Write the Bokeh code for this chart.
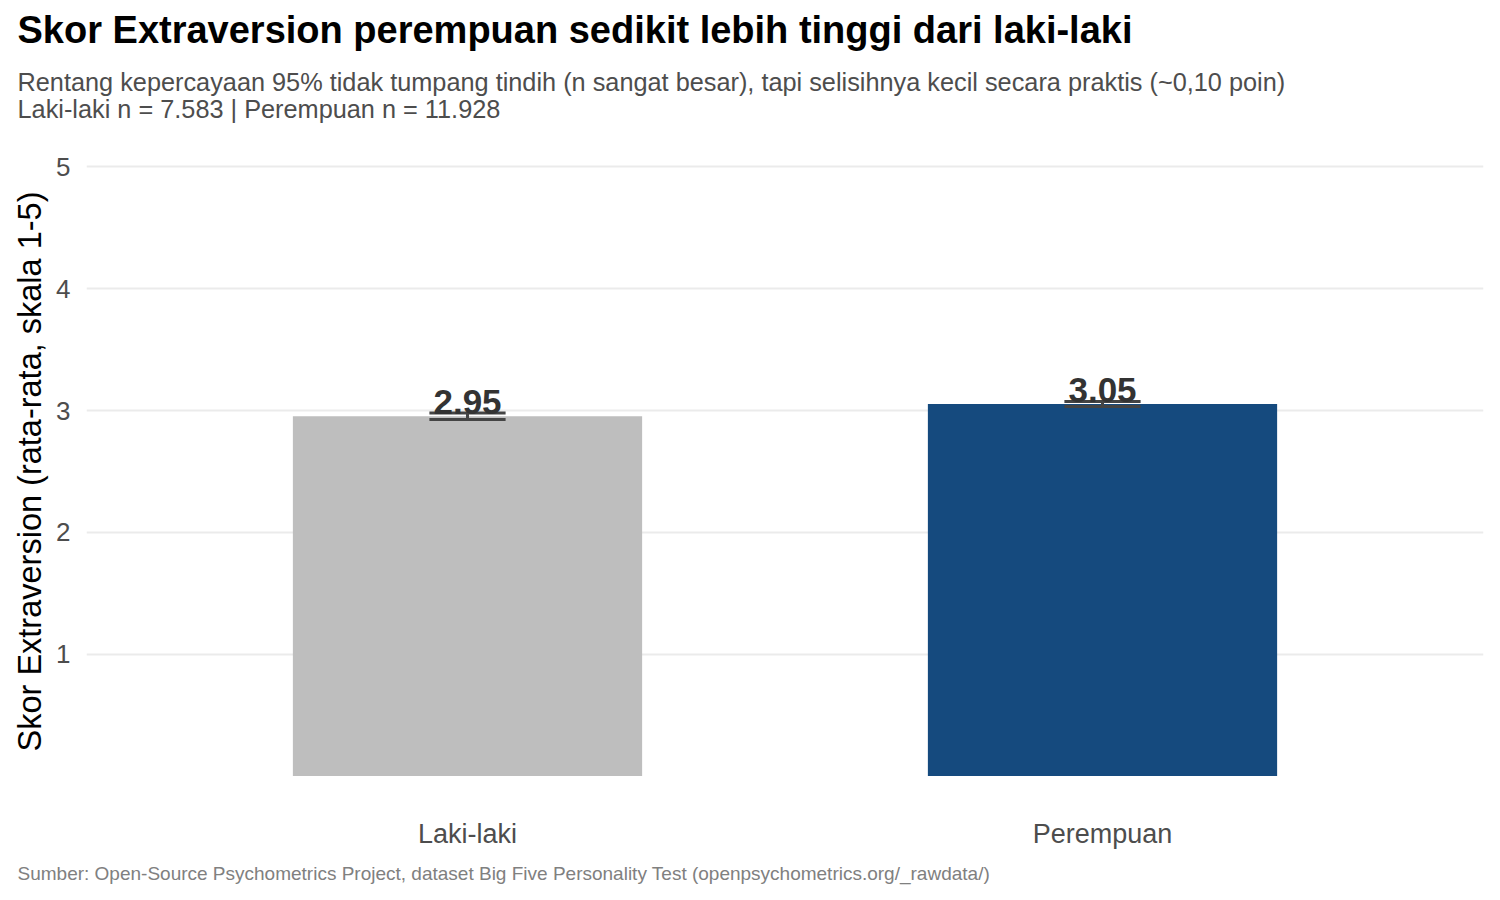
from bokeh.plotting import figure
from bokeh.models import Range1d, FactorRange, FixedTicker, Title, ColumnDataSource
from bokeh.transform import dodge
from bokeh.core.properties import value
from bokeh.embed import file_html
from bokeh.resources import INLINE

categories = ["Laki-laki", "Perempuan"]
means = [2.954, 3.054]
ci_lower = [2.927, 3.033]
ci_upper = [2.981, 3.075]
mean_labels = ["2.95", "3.05"]
bar_colors = ["#BEBEBE", "#154A7E"]
y_ticks = [1, 2, 3, 4, 5]

title_text = "Skor Extraversion perempuan sedikit lebih tinggi dari laki-laki"
subtitle_1 = "Rentang kepercayaan 95% tidak tumpang tindih (n sangat besar), tapi selisihnya kecil secara praktis (~0,10 poin)"
subtitle_2 = "Laki-laki n = 7.583 | Perempuan n = 11.928"
caption = "Sumber: Open-Source Psychometrics Project, dataset Big Five Personality Test (openpsychometrics.org/_rawdata/)"
y_label = "Skor Extraversion (rata-rata, skala 1-5)"

FONT = "Liberation Sans"

src = ColumnDataSource(dict(cat=categories, mean=means, lo=ci_lower, hi=ci_upper,
                            label=mean_labels, color=bar_colors))

p = figure(width=1492, height=892,
           x_range=FactorRange(factors=categories, range_padding=0.1, range_padding_units="absolute"),
           y_range=Range1d(-0.25, 5.25),
           output_backend="svg", toolbar_location=None, title=None,
           min_border_left=86, min_border_right=9, min_border_top=136, min_border_bottom=84)

p.background_fill_color = "white"
p.border_fill_color = "white"
p.outline_line_color = None

p.vbar(x="cat", top="mean", bottom=0, width=0.55, fill_color="color", line_color=None, source=src)

ecol = "#444444"
p.segment(x0="cat", y0="lo", x1="cat", y1="hi", line_color=ecol, line_width=3, source=src)
p.segment(x0=dodge("cat", -0.06, range=p.x_range), y0="lo",
          x1=dodge("cat", 0.06, range=p.x_range), y1="lo", line_color=ecol, line_width=3, source=src)
p.segment(x0=dodge("cat", -0.06, range=p.x_range), y0="hi",
          x1=dodge("cat", 0.06, range=p.x_range), y1="hi", line_color=ecol, line_width=3, source=src)

p.text(x="cat", y="mean", text="label", source=src, text_font=value(FONT), text_font_style="bold",
       text_font_size="35px", text_color="#333333", text_align="center", text_baseline="alphabetic",
       y_offset=-14)

# axes
p.xgrid.grid_line_color = None
p.ygrid.ticker = FixedTicker(ticks=y_ticks)
p.ygrid.grid_line_color = "#EBEBEB"
p.ygrid.grid_line_width = 2

p.yaxis.ticker = FixedTicker(ticks=y_ticks)
for ax in (p.xaxis[0], p.yaxis[0]):
    ax.axis_line_color = None
    ax.major_tick_line_color = None
    ax.minor_tick_line_color = None
    ax.major_label_text_font = FONT
    ax.major_label_text_color = "#4D4D4D"
p.xaxis.major_label_text_font_size = "27px"
p.yaxis.major_label_text_font_size = "26px"

p.xaxis.major_label_standoff = 6
p.yaxis.major_label_standoff = 10
p.yaxis.axis_label = y_label
p.yaxis.axis_label_text_font = FONT
p.yaxis.axis_label_text_font_size = "32.5px"
p.yaxis.axis_label_text_font_style = "normal"
p.yaxis.axis_label_text_color = "black"
p.yaxis.axis_label_standoff = 5

# titles (first added is nearest the frame)
p.add_layout(Title(text=subtitle_1 + "\n" + subtitle_2, align="left", offset=-69, text_font=FONT,
                   text_font_size="25.3px", text_line_height=0.97,
                   text_font_style="normal", text_color="#4D4D4D", standoff=26), "above")
p.add_layout(Title(text=title_text, align="left", offset=-69, text_font=FONT, text_font_size="38px",
                   text_font_style="bold", text_color="black", standoff=6), "above")
p.add_layout(Title(text=caption, align="left", offset=-69, text_font=FONT, text_font_size="19px",
                   text_font_style="normal", text_color="#808080", standoff=18), "below")

open("out.html", "w").write(file_html(p, INLINE))
